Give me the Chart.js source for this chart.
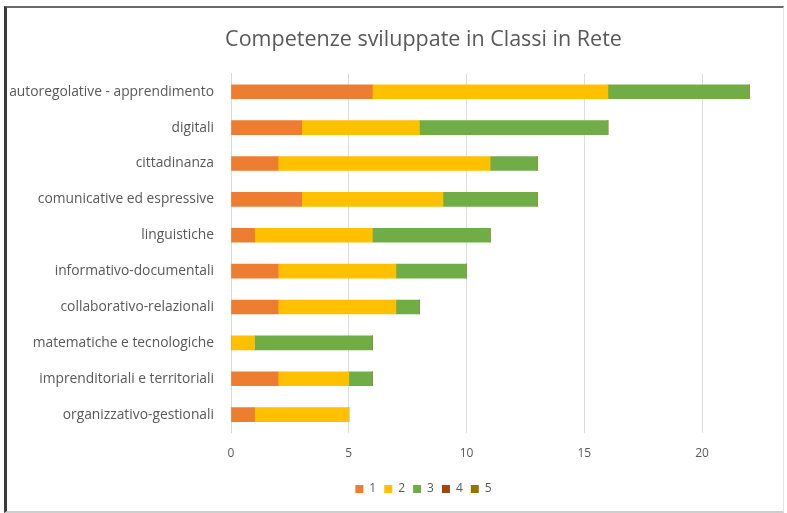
<!DOCTYPE html>
<html>
<head>
<meta charset="utf-8">
<script src="https://cdn.jsdelivr.net/npm/chart.js@4"></script>
<style>
    html, body { margin: 0; padding: 0; background: #fff; }
    #wrap { position: relative; width: 787px; height: 513px; overflow: hidden; }
    #frame {
        position: absolute; left: 4px; top: 6px; width: 776px; height: 503px;
        border-left: 3px solid #3a3a3a; border-top: 2px solid #6a6a6a;
        border-right: 1px solid #e4e4e4; border-bottom: 2px solid #cfcfcf;
        pointer-events: none;
    }
    canvas { position: absolute; left: 0; top: 0; }
</style>
</head>
<body>
<div id="wrap">
    <canvas id="chart" width="787" height="513"></canvas>
    <div id="frame"></div>
</div>
<script>
// categories, top to bottom
const categories = [
    "autoregolative - apprendimento",
    "digitali",
    "cittadinanza",
    "comunicative ed espressive",
    "linguistiche",
    "informativo-documentali",
    "collaborativo-relazionali",
    "matematiche e tecnologiche",
    "imprenditoriali e territoriali",
    "organizzativo-gestionali",
];

const livello1 = [6, 3, 2, 3, 1, 2, 2, 0, 2, 1];
const livello2 = [10, 5, 9, 6, 5, 5, 5, 1, 3, 4];
const livello3 = [6, 8, 2, 4, 5, 3, 1, 5, 1, 0];
const livello4 = [0, 0, 0, 0, 0, 0, 0, 0, 0, 0];
const livello5 = [0, 0, 0, 0, 0, 0, 0, 0, 0, 0];

const xTicks = [0, 5, 10, 15, 20];

const TEXT = "#595959";
const FONT = "'Open Sans', 'DejaVu Sans', sans-serif";

// title and legend sit a bit right of the canvas centre, like in the original
const shiftBoxes = {
    id: "shiftBoxes",
    afterUpdate(chart) {
        const dx = 43;
        [chart.titleBlock, chart.legend].forEach(b => {
            if (!b) return;
            b.left += dx;
            b.right += dx;
        });
        chart.legend?.adjustHitBoxes();
    },
};

const ctx = document.getElementById("chart").getContext("2d");

new Chart(ctx, {
    type: "bar",
    data: {
        labels: categories,
        datasets: [
            { label: "1", data: livello1, backgroundColor: "#ED7D31" },
            { label: "2", data: livello2, backgroundColor: "#FFC000" },
            { label: "3", data: livello3, backgroundColor: "#70AD47" },
            { label: "4", data: livello4, backgroundColor: "#9E480E" },
            { label: "5", data: livello5, backgroundColor: "#997300" },
        ],
    },
    plugins: [shiftBoxes],
    options: {
        indexAxis: "y",
        responsive: false,
        animation: false,
        datasets: { bar: { barThickness: 14 } },
        layout: { padding: { top: 27, right: 26, bottom: 8, left: 0 } },
        plugins: {
            title: {
                display: true,
                text: "Competenze sviluppate in Classi in Rete",
                color: TEXT,
                font: { family: FONT, size: 21.5, weight: "normal" },
                padding: { top: 0, bottom: 21 },
            },
            legend: {
                position: "bottom",
                labels: {
                    color: TEXT,
                    font: { family: FONT, size: 12 },
                    boxWidth: 8,
                    boxHeight: 8,
                    padding: 8,
                },
            },
            tooltip: { enabled: false },
        },
        scales: {
            x: {
                stacked: true,
                min: 0,
                max: 22.5,
                afterBuildTicks: scale => {
                    scale.ticks = xTicks.map(v => ({ value: v }));
                },
                grid: { color: "#dedede", drawTicks: false },
                border: { display: false },
                ticks: {
                    color: TEXT,
                    font: { family: FONT, size: 12 },
                    padding: 14,
                },
            },
            y: {
                stacked: true,
                grid: { display: false },
                border: { display: true, color: "#d9d9d9" },
                afterFit: scale => { scale.width = 231; },
                ticks: {
                    color: TEXT,
                    font: { family: FONT, size: 13.8 },
                    padding: 9,
                },
            },
        },
    },
});
</script>
</body>
</html>
